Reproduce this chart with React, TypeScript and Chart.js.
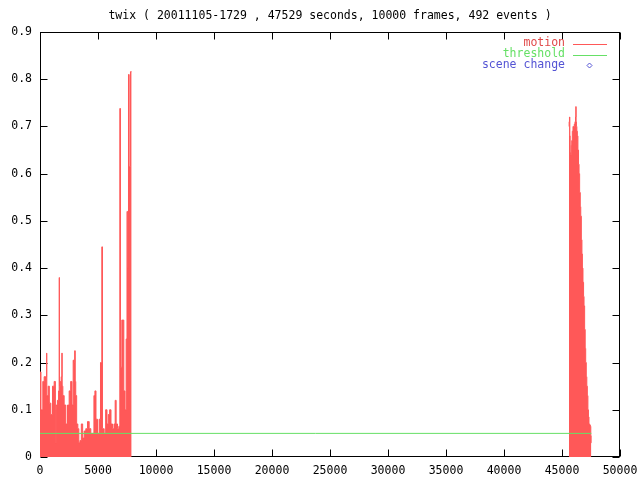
import React, { useEffect, useRef } from 'react';
import { Chart, registerables } from 'chart.js';

Chart.register(...registerables);

const TITLE = 'twix ( 20011105-1729 , 47529 seconds, 10000 frames, 492 events )';
const legendLabels = ['motion', 'threshold', 'scene change'];

// motion, first active span (seconds, value)
const leftTimes = [
  0, 57, 110, 200, 287, 431, 560, 575, 600, 661, 747, 862, 1006, 1149, 1293, 1360, 1379, 1400, 1437,
  1560, 1640, 1666, 1690, 1781, 1870, 1896, 1930, 2011, 2155, 2298, 2442, 2586, 2701, 2816, 2902,
  2960, 3017, 3060, 3103, 3218, 3304, 3390, 3505, 3620, 3735, 3879, 4022, 4166, 4310, 4453, 4597,
  4700, 4769, 4884, 5028, 5171, 5260, 5286, 5373, 5400, 5459, 5602, 5717, 5832, 5947, 6062, 6177,
  6321, 6436, 6522, 6608, 6752, 6838, 6924, 6950, 7010, 7096, 7183, 7269, 7384, 7470, 7527, 7585,
  7671, 7700, 7757, 7843, 7900,
];
const leftValues = [
  0.18, 0.18, 0.10, 0.10, 0.16, 0.17, 0.17, 0.22, 0.13, 0.13, 0.15, 0.114, 0.09, 0.15, 0.16, 0.10, 0.03, 0.11, 0.11,
  0.12, 0.14, 0.38, 0.15, 0.16, 0.17, 0.22, 0.15, 0.13, 0.11, 0.07, 0.11, 0.14, 0.16, 0.11, 0.205,
  0.20, 0.225, 0.16, 0.13, 0.07, 0.06, 0.03, 0.035, 0.07, 0.04, 0.055, 0.06, 0.075, 0.06, 0.05, 0.05,
  0.13, 0.14, 0.08, 0.05, 0.08, 0.2, 0.2, 0.445, 0.06, 0.06, 0.05, 0.10, 0.07, 0.09, 0.10, 0.07,
  0.06, 0.07, 0.12, 0.07, 0.06, 0.065, 0.738, 0.19, 0.19, 0.29, 0.29, 0.14, 0.10, 0.25, 0.52, 0.40,
  0.81, 0.615, 0.615, 0.816, 0.816,
];

// motion, second active span
const rightTimes = [
  45600, 45630, 45660, 45690, 45720, 45772, 45820, 45858, 45920, 45973, 46030, 46088, 46150, 46180,
  46203, 46230, 46260, 46300, 46347, 46400, 46450, 46490, 46550, 46600, 46634, 46700, 46740, 46777,
  46840, 46880, 46921, 46980, 47020, 47065, 47120, 47160, 47208, 47260, 47300, 47352, 47410, 47467,
  47500, 47529,
];
const rightValues = [
  0.70, 0.71, 0.72, 0.68, 0.645, 0.64, 0.66, 0.67, 0.69, 0.70, 0.70, 0.705, 0.71, 0.72,
  0.742, 0.71, 0.70, 0.69, 0.68, 0.65, 0.62, 0.60, 0.56, 0.53, 0.51, 0.46, 0.43, 0.40,
  0.37, 0.34, 0.32, 0.27, 0.23, 0.20, 0.17, 0.15, 0.13, 0.10, 0.085, 0.07, 0.068, 0.065,
  0.045, 0.03,
];
const gapTime = 20000;

const thresholdTimes = [0, 47529];
const thresholdValues = [0.05, 0.05];

const sceneChangeTimes: number[] = [];
const sceneChangeValues: number[] = [];

const FONT_FAMILY = "'DejaVu Sans Mono', 'Liberation Mono', monospace";
const FONT_SIZE = 11.5;
const RED = '#ff5858';
const GREEN = '#66e066';
const BLUE = '#5454d4';
const RED_TEXT = '#e04848';

const pts = (xs: number[], ys: (number | null)[]) => xs.map((x, i) => ({ x, y: ys[i] }));

const framePlugin = {
  id: 'gnuFrame',
  beforeDatasetsDraw(chart: any) {
    const { ctx, chartArea: a, scales } = chart;
    ctx.save();
    ctx.strokeStyle = '#000';
    ctx.lineWidth = 1;
    const L = a.left + 0.5, R = a.right - 0.5, T = a.top + 0.5, B = a.bottom - 0.5;
    ctx.strokeRect(L, T, R - L, B - T);
    const tl = 7;
    ctx.beginPath();
    scales.x.ticks.forEach((t: any) => {
      const px = Math.round(scales.x.getPixelForValue(t.value)) + 0.5;
      ctx.moveTo(px, B); ctx.lineTo(px, B - tl);
      ctx.moveTo(px, T); ctx.lineTo(px, T + tl);
    });
    scales.y.ticks.forEach((t: any) => {
      const py = Math.round(scales.y.getPixelForValue(t.value)) + 0.5;
      ctx.moveTo(L, py); ctx.lineTo(L + tl, py);
      ctx.moveTo(R, py); ctx.lineTo(R - tl, py);
    });
    ctx.stroke();
    ctx.restore();
  },
  afterDraw(chart: any) {
    const { ctx, chartArea: a } = chart;
    ctx.save();
    ctx.font = `${FONT_SIZE}px ${FONT_FAMILY}`;
    ctx.textBaseline = 'middle';
    ctx.textAlign = 'center';
    ctx.fillStyle = '#000';
    ctx.fillText(TITLE, (a.left + a.right) / 2, 16);

    const textColors = [RED_TEXT, GREEN, BLUE];
    const lineColors = [RED, GREEN, BLUE];
    const textRight = 565;
    const rows = [43.5, 54.5, 65];
    ctx.textAlign = 'right';
    legendLabels.forEach((lab, i) => {
      ctx.fillStyle = textColors[i];
      ctx.fillText(lab, textRight, rows[i]);
      ctx.strokeStyle = lineColors[i];
      ctx.lineWidth = 1;
      if (i < 2) {
        ctx.beginPath();
        ctx.moveTo(573, Math.round(rows[i]) + 0.5);
        ctx.lineTo(607, Math.round(rows[i]) + 0.5);
        ctx.stroke();
      } else {
        const cx = 589.5, cy = Math.round(rows[i]) + 0.5, r = 2.5;
        ctx.beginPath();
        ctx.moveTo(cx, cy - r); ctx.lineTo(cx + r, cy); ctx.lineTo(cx, cy + r); ctx.lineTo(cx - r, cy);
        ctx.closePath();
        ctx.stroke();
      }
    });
    ctx.restore();
  },
};

export default function App() {
  const ref = useRef<HTMLCanvasElement>(null);
  useEffect(() => {
    if (!ref.current) return;
    const motion = [...pts(leftTimes, leftValues), { x: gapTime, y: null }, ...pts(rightTimes, rightValues)];
    const chart = new Chart(ref.current, {
      type: 'line',
      data: {
        datasets: [
          {
            label: legendLabels[1],
            data: pts(thresholdTimes, thresholdValues),
            borderColor: GREEN,
            borderWidth: 1,
            pointRadius: 0,
            fill: false,
            order: 0,
          },
          {
            label: legendLabels[0],
            data: motion as any,
            borderColor: RED,
            backgroundColor: RED,
            borderWidth: 1,
            pointRadius: 0,
            stepped: 'middle',
            fill: 'origin',
            spanGaps: false,
            order: 1,
          },
          {
            label: legendLabels[2],
            data: pts(sceneChangeTimes, sceneChangeValues),
            borderColor: BLUE,
            showLine: false,
            pointStyle: 'rectRot',
            pointRadius: 3,
            order: 2,
          },
        ],
      },
      options: {
        animation: false,
        responsive: false,
        devicePixelRatio: 1,
        layout: { padding: { top: 32, right: 20, left: 0, bottom: 0 } },
        plugins: { legend: { display: false }, title: { display: false }, tooltip: { enabled: false } },
        scales: {
          x: {
            type: 'linear',
            min: 0,
            max: 50000,
            grid: { display: false, drawTicks: false },
            border: { display: false },
            afterFit: (s: any) => { s.height = 23; s.paddingLeft = 0; s.paddingRight = 0; },
            ticks: {
              stepSize: 5000,
              padding: 7,
              maxRotation: 0,
              autoSkip: false,
              color: '#000',
              font: { family: FONT_FAMILY, size: FONT_SIZE },
              callback: (v: any) => String(Math.round(Number(v))),
            },
          },
          y: {
            type: 'linear',
            min: 0,
            max: 0.9,
            grid: { display: false, drawTicks: false },
            border: { display: false },
            afterFit: (s: any) => { s.width = 40; s.paddingTop = 0; s.paddingBottom = 0; },
            ticks: {
              stepSize: 0.1,
              padding: 8,
              color: '#000',
              font: { family: FONT_FAMILY, size: FONT_SIZE },
              callback: (v: any) => String(Number(Number(v).toFixed(1))),
            },
          },
        },
      },
      plugins: [framePlugin],
    });
    return () => chart.destroy();
  }, []);
  return (
    <div style={{ position: 'absolute', left: 0, top: 0, width: 640, height: 480, background: '#fff' }}>
      <canvas ref={ref} width={640} height={480} />
    </div>
  );
}
